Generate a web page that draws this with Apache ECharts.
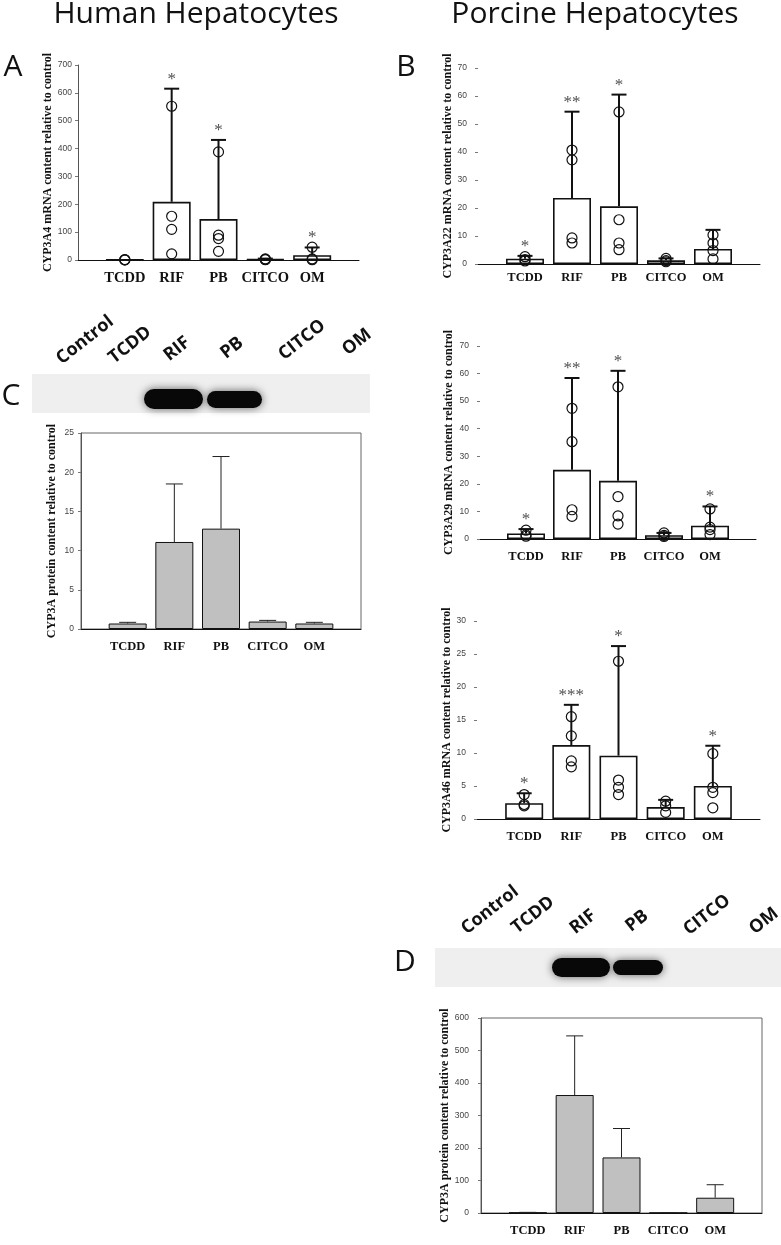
<!DOCTYPE html>
<html lang="en">
<head>
<meta charset="utf-8">
<title>CYP3A induction in human and porcine hepatocytes</title>
<script src="https://cdn.jsdelivr.net/npm/echarts@6/dist/echarts.min.js"></script>
<style>
  html, body { margin: 0; padding: 0; background: #fff; }
  #fig { width: 781px; height: 1245px; }
</style>
</head>
<body>
<div id="fig"></div>
<script>
// lanes: empty slot at each end so the treatments sit like in the original plots
var cats = ['', 'TCDD', 'RIF', 'PB', 'CITCO', 'OM', ''];

// A - human CYP3A4 mRNA
var aMean = [1, 209, 147, 3, 17];
var aErr = [null, 615, 431, 5, 45];
var aPts = [[0.5, 0.8, 1.2], [552, 157, 110, 22], [388, 89, 77, 31], [4, 2, 1], [46, 4, 1]];
var aStars = ['', '*', '*', '', '*'];

// B - porcine CYP3A22 mRNA
var b1Mean = [1.9, 23.6, 20.6, 1.3, 5.4];
var b1Err = [2.9, 54.4, 60.5, 2.0, 12.2];
var b1Pts = [[2.6, 1.6, 1.1], [40.7, 37.2, 9.3, 7.5], [54.3, 15.8, 7.5, 5.1], [2.0, 1.2, 0.8], [10.4, 7.5, 4.8, 1.8]];
var b1Stars = ['*', '**', '*', '', ''];

// B - porcine CYP3A29 mRNA
var b2Mean = [2.0, 25.1, 21.1, 1.4, 4.8];
var b2Err = [3.6, 58.4, 61.0, 2.2, 11.8];
var b2Pts = [[3.2, 1.5, 1.0], [47.4, 35.3, 10.6, 8.2], [55.2, 15.4, 8.4, 5.4], [2.2, 1.3, 0.9], [10.9, 4.3, 3.4, 1.6]];
var b2Stars = ['*', '**', '*', '', '*'];

// B - porcine CYP3A46 mRNA
var b3Mean = [2.4, 11.2, 9.6, 1.8, 5.0];
var b3Err = [3.9, 17.3, 26.2, 2.9, 11.1];
var b3Pts = [[3.7, 2.0, 2.2], [15.5, 12.6, 8.8, 7.9], [23.9, 5.9, 4.8, 3.7], [2.7, 2.0, 1.0], [9.9, 4.8, 4.0, 1.7]];
var b3Stars = ['*', '***', '*', '', '*'];

// C - human CYP3A protein
var cMean = [0.7, 11.1, 12.8, 0.95, 0.7];
var cErr = [0.85, 18.5, 22.0, 1.1, 0.85];

// D - porcine CYP3A protein
var dMean = [1, 363, 171, 0.5, 47];
var dErr = [2, 545, 260, 1, 87];

var lanes = ['Control', 'TCDD', 'RIF', 'PB', 'CITCO', 'OM'];

var SERIF = 'Liberation Serif';
var SANS = 'Liberation Sans';
var HEAD = 'Open Sans';

var panels = [
  { box: {left: 78, top: 65, width: 281, height: 195}, max: 700, step: 100,
    name: 'CYP3A4 mRNA content relative to control', mean: aMean, err: aErr, pts: aPts, stars: aStars,
    kind: 'mrna', yLine: true, nameGap: 20, yMargin: 6, xMargin: 11, xFont: 14.5 },
  { box: {left: 478, top: 68, width: 282, height: 196}, max: 70, step: 10,
    name: 'CYP3A22 mRNA content relative to control', mean: b1Mean, err: b1Err, pts: b1Pts, stars: b1Stars,
    kind: 'mrna', yLine: false, nameGap: 22, yMargin: 11, xMargin: 7, xFont: 12.5 },
  { box: {left: 480, top: 346, width: 276, height: 193}, max: 70, step: 10,
    name: 'CYP3A29 mRNA content relative to control', mean: b2Mean, err: b2Err, pts: b2Pts, stars: b2Stars,
    kind: 'mrna', yLine: false, nameGap: 25, yMargin: 11, xMargin: 11, xFont: 12.5 },
  { box: {left: 477, top: 621, width: 283, height: 198}, max: 30, step: 5,
    name: 'CYP3A46 mRNA content relative to control', mean: b3Mean, err: b3Err, pts: b3Pts, stars: b3Stars,
    kind: 'mrna', yLine: false, nameGap: 23, yMargin: 11, xMargin: 11, xFont: 12.5 },
  { box: {left: 81, top: 433, width: 280, height: 196}, max: 25, step: 5,
    name: 'CYP3A protein content relative to control', mean: cMean, err: cErr,
    kind: 'protein', yLine: true, nameGap: 23, yMargin: 7, xMargin: 11, xFont: 12.5 },
  { box: {left: 481, top: 1018, width: 281, height: 195}, max: 600, step: 100,
    name: 'CYP3A protein content relative to control', mean: dMean, err: dErr,
    kind: 'protein', yLine: true, nameGap: 26, yMargin: 12, xMargin: 11, xFont: 12.5 }
];

function errorBar(capW, lw, color) {
  return function (params, api) {
    var a = api.coord([api.value(0), api.value(1)]);
    var b = api.coord([api.value(0), api.value(2)]);
    var st = {stroke: color, lineWidth: lw};
    return {
      type: 'group',
      children: [
        {type: 'line', shape: {x1: a[0], y1: a[1], x2: b[0], y2: b[1]}, style: st},
        {type: 'line', shape: {x1: b[0] - capW / 2, y1: b[1], x2: b[0] + capW / 2, y2: b[1]}, style: st}
      ]
    };
  };
}

var grids = [], xAxes = [], yAxes = [], series = [];

panels.forEach(function (p, i) {
  var prot = p.kind === 'protein';
  var g = Object.assign({}, p.box);
  if (prot) {
    g.show = true;
    g.borderColor = '#666';
    g.borderWidth = 1;
  }
  grids.push(g);

  xAxes.push({
    gridIndex: i, type: 'category', data: cats, boundaryGap: false,
    axisLine: {show: true, lineStyle: {color: '#111', width: 1}},
    axisTick: {show: false},
    axisLabel: {interval: 0, margin: p.xMargin, fontFamily: SERIF, fontWeight: 'bold', fontSize: p.xFont, color: '#111'},
    splitLine: {show: false}
  });

  yAxes.push({
    gridIndex: i, type: 'value', min: 0, max: p.max, interval: p.step,
    name: p.name, nameLocation: 'middle', nameGap: p.nameGap,
    nameTextStyle: {fontFamily: SERIF, fontWeight: 'bold', fontSize: 12, color: '#111'},
    axisLine: {show: p.yLine, lineStyle: {color: '#555', width: 1}},
    axisTick: {show: true, length: 3, lineStyle: {color: '#777'}},
    axisLabel: {margin: p.yMargin, fontFamily: SANS, fontSize: 8.5, color: '#444'},
    splitLine: {show: false}
  });

  series.push({
    type: 'bar', xAxisIndex: i, yAxisIndex: i, barWidth: 38,
    data: ['-'].concat(p.mean, ['-']),
    itemStyle: prot
      ? {color: '#c0c0c0', borderColor: '#111', borderWidth: 1}
      : {color: '#fff', borderColor: '#111', borderWidth: 1.6},
    silent: true
  });

  var errData = [];
  p.err.forEach(function (e, k) {
    if (e != null) errData.push([k + 1, p.mean[k], e]);
  });
  series.push({
    type: 'custom', xAxisIndex: i, yAxisIndex: i, z: 3,
    renderItem: prot ? errorBar(17, 1, '#222') : errorBar(15, 2, '#111'),
    encode: {x: 0, y: [1, 2]},
    data: errData, silent: true
  });

  if (p.pts) {
    var ptData = [];
    p.pts.forEach(function (arr, k) {
      arr.forEach(function (v) { ptData.push([k + 1, v]); });
    });
    series.push({
      type: 'scatter', xAxisIndex: i, yAxisIndex: i, z: 4,
      symbol: 'circle', symbolSize: 10, data: ptData,
      itemStyle: {color: 'rgba(0,0,0,0)', borderColor: '#111', borderWidth: 1.2, opacity: 1},
      silent: true
    });
  }

  if (p.stars) {
    var starData = [];
    p.stars.forEach(function (s, k) {
      if (s) starData.push({name: s, value: [k + 1, p.err[k]]});
    });
    series.push({
      type: 'scatter', xAxisIndex: i, yAxisIndex: i, z: 5,
      symbolSize: 0, data: starData,
      label: {show: true, position: 'top', distance: 1, formatter: '{b}',
        fontFamily: SERIF, fontSize: 17, color: '#222'},
      silent: true
    });
  }
});

// western blot strips (picture, drawn as decoration)
function blot(x, y, w, h, bands, labelPos) {
  var els = [{type: 'rect', shape: {x: x, y: y, width: w, height: h},
    style: {fill: '#efefef'}}];
  bands.forEach(function (b) {
    els.push({type: 'rect', shape: {x: b[0], y: b[1], width: b[2], height: b[3], r: b[3] / 2},
      style: {fill: '#080808', shadowBlur: 8, shadowColor: 'rgba(0,0,0,0.6)'}});
  });
  labelPos.forEach(function (pt, k) {
    els.push({type: 'text', x: pt[0], y: pt[1], rotation: 38 * Math.PI / 180,
      style: {text: lanes[k], font: 'bold 18px "' + HEAD + '"', fill: '#111',
        align: 'center', verticalAlign: 'middle'}});
  });
  return els;
}

var graphics = [
  {type: 'text', x: 196, y: 14, style: {text: 'Human Hepatocytes', font: '30px "' + HEAD + '"', fill: '#111', align: 'center', verticalAlign: 'middle'}},
  {type: 'text', x: 595, y: 14, style: {text: 'Porcine Hepatocytes', font: '30px "' + HEAD + '"', fill: '#111', align: 'center', verticalAlign: 'middle'}},
  {type: 'text', x: 13, y: 67, style: {text: 'A', font: '30px "' + HEAD + '"', fill: '#111', align: 'center', verticalAlign: 'middle'}},
  {type: 'text', x: 406, y: 67, style: {text: 'B', font: '30px "' + HEAD + '"', fill: '#111', align: 'center', verticalAlign: 'middle'}},
  {type: 'text', x: 11, y: 396, style: {text: 'C', font: '30px "' + HEAD + '"', fill: '#111', align: 'center', verticalAlign: 'middle'}},
  {type: 'text', x: 405, y: 962, style: {text: 'D', font: '30px "' + HEAD + '"', fill: '#111', align: 'center', verticalAlign: 'middle'}}
].concat(
  blot(32, 374, 338, 39, [[144, 389, 59, 20], [207, 391, 55, 17]],
    [[85, 340], [130, 345], [177, 349], [232, 348], [302, 340], [357, 342]]),
  blot(435, 948, 346, 39, [[552, 958, 58, 19], [613, 960, 50, 15]],
    [[490, 910], [533, 915], [583, 922], [637, 921], [707, 915], [764, 921]])
);

var chart = echarts.init(document.getElementById('fig'));
chart.setOption({
  animation: false,
  backgroundColor: '#fff',
  grid: grids,
  xAxis: xAxes,
  yAxis: yAxes,
  series: series,
  graphic: graphics
});
</script>
</body>
</html>
